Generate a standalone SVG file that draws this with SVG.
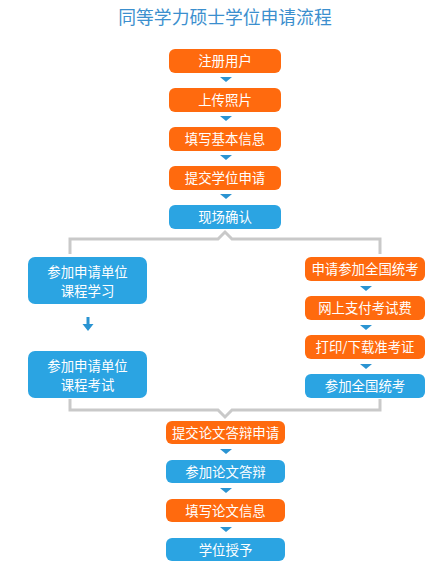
<svg xmlns="http://www.w3.org/2000/svg" width="443" height="573" viewBox="0 0 443 573">
<defs>
<style>
.o{fill:#ff6a0e}
.b{fill:#2ba4e2}
.t{fill:#fff;font-family:"Noto Sans CJK SC","Noto Sans",sans-serif;font-size:13.4px;text-anchor:middle}
.tri{fill:#2a94d2}
.br{fill:none;stroke:#c9c9c9;stroke-width:3}
</style>
</defs>
<rect width="443" height="573" fill="#fff"/>
<text x="225" y="23.5" font-family="'Noto Sans CJK SC','Noto Sans',sans-serif" font-size="17.8" fill="#3b8fce" text-anchor="middle">同等学力硕士学位申请流程</text>
<g id="connectors">
<path class="tri" d="M220 77h12l-6 5z"/>
<path class="tri" d="M220 116h12l-6 5z"/>
<path class="tri" d="M220 155h12l-6 5z"/>
<path class="tri" d="M220 194h12l-6 5z"/>
<path class="br" d="M70 254V239H218L225 232L232 239H380V254"/>
<path class="tri" d="M360 286h12l-6 5z"/>
<path class="tri" d="M360 325h12l-6 5z"/>
<path class="tri" d="M360 364h12l-6 5z"/>
<path class="tri" d="M86.5 317h3v7h4l-5.5 7l-5.5-7h4z"/>
<path class="br" d="M70 399V410H218L225 417L232 410H380V399"/>
<path class="tri" d="M220 449h12l-6 5z"/>
<path class="tri" d="M220 488h12l-6 5z"/>
<path class="tri" d="M220 527h12l-6 5z"/>
</g>
<g id="n1"><rect class="o" x="169" y="49" width="112" height="24" rx="6"/><text class="t" x="225" y="66">注册用户</text></g>
<g id="n2"><rect class="o" x="169" y="88" width="112" height="24" rx="6"/><text class="t" x="225" y="105">上传照片</text></g>
<g id="n3"><rect class="o" x="169" y="127" width="112" height="24" rx="6"/><text class="t" x="225" y="144">填写基本信息</text></g>
<g id="n4"><rect class="o" x="169" y="166" width="112" height="24" rx="6"/><text class="t" x="225" y="183">提交学位申请</text></g>
<g id="n5"><rect class="b" x="169" y="205" width="112" height="24" rx="6"/><text class="t" x="225" y="222">现场确认</text></g>
<g id="l1"><rect class="b" x="28" y="257" width="119" height="47" rx="7"/><text class="t" x="87.5" y="277">参加申请单位</text><text class="t" x="87.5" y="296">课程学习</text></g>
<g id="l2"><rect class="b" x="28" y="351" width="119" height="47" rx="7"/><text class="t" x="87.5" y="371">参加申请单位</text><text class="t" x="87.5" y="390">课程考试</text></g>
<g id="r1"><rect class="o" x="305" y="257" width="120" height="24" rx="6"/><text class="t" x="365" y="274">申请参加全国统考</text></g>
<g id="r2"><rect class="o" x="305" y="296" width="120" height="24" rx="6"/><text class="t" x="365" y="313">网上支付考试费</text></g>
<g id="r3"><rect class="o" x="305" y="335" width="120" height="24" rx="6"/><text class="t" x="365" y="352">打印/下载准考证</text></g>
<g id="r4"><rect class="b" x="305" y="374" width="120" height="24" rx="6"/><text class="t" x="365" y="391">参加全国统考</text></g>
<g id="n6"><rect class="o" x="166" y="421" width="119" height="23" rx="6"/><text class="t" x="225.5" y="438">提交论文答辩申请</text></g>
<g id="n7"><rect class="b" x="166" y="460" width="119" height="23" rx="6"/><text class="t" x="225.5" y="477">参加论文答辩</text></g>
<g id="n8"><rect class="o" x="166" y="499" width="119" height="23" rx="6"/><text class="t" x="225.5" y="516">填写论文信息</text></g>
<g id="n9"><rect class="b" x="166" y="538" width="119" height="23" rx="6"/><text class="t" x="225.5" y="555">学位授予</text></g>
</svg>
